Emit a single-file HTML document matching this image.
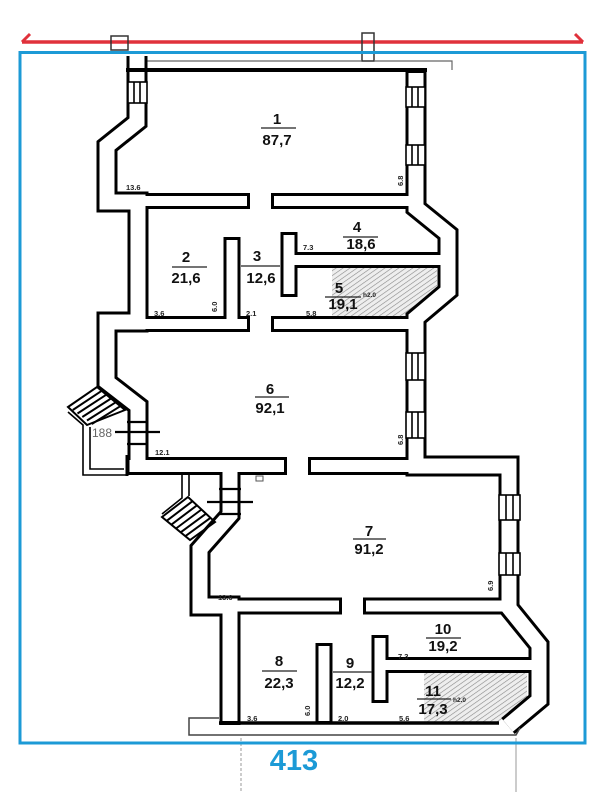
<!DOCTYPE html>
<html><head><meta charset="utf-8"><style>
html,body{margin:0;padding:0;background:#fff;}
svg{display:block;}
text{font-family:"Liberation Sans",sans-serif;}
.n{font-size:15px;font-weight:bold;text-anchor:middle;fill:#111;}
.d{font-size:7.5px;font-weight:bold;fill:#222;}
</style></head><body>
<svg width="604" height="792" viewBox="0 0 604 792" xmlns="http://www.w3.org/2000/svg">
<defs>
<pattern id="h" width="4" height="4" patternUnits="userSpaceOnUse" patternTransform="rotate(-35)">
<rect width="4" height="4" fill="#eee"/><line x1="0" y1="0" x2="4" y2="0" stroke="#888" stroke-width="1.2"/>
</pattern>
</defs>
<rect width="604" height="792" fill="#fff"/>

<line x1="22" y1="42" x2="583" y2="42" stroke="#e0313b" stroke-width="3.5"/>
<polyline points="30,34 22,42" stroke="#e0313b" stroke-width="3" fill="none"/>
<polyline points="575,34 583,42" stroke="#e0313b" stroke-width="3" fill="none"/>
<rect x="111" y="36" width="17" height="14" fill="none" stroke="#333" stroke-width="1.5"/>
<rect x="362" y="33" width="12" height="28" fill="none" stroke="#333" stroke-width="1.5"/>
<polyline points="137,61 362,61" stroke="#666" stroke-width="1.2" fill="none"/>
<polyline points="374,61 452,61 452,70" stroke="#666" stroke-width="1.2" fill="none"/>
<line x1="241" y1="738" x2="241" y2="792" stroke="#999" stroke-width="1" stroke-dasharray="3 2"/>
<line x1="516" y1="738" x2="516" y2="792" stroke="#999" stroke-width="1"/>

<polygon points="332,268 437,268 437,289 405,316 332,316" fill="url(#h)"/>
<polygon points="424,673 527,673 527,700 497,723 424,723" fill="url(#h)"/>

<g fill="none" stroke-linejoin="miter" stroke-linecap="butt">
<g stroke="#000">
 <path stroke-width="21" d="M137,56 V122 L107,146 V202 H138 V322 H107 V382 L138,406 V466"/>
 <path stroke-width="18" d="M287,466 H127"/>
 <path stroke-width="21" d="M416,70 V208 L448,234 V291 L416,318 V466 H509 V608 L539,645 V700 L508,726"/>
 <path stroke-width="18" d="M308,466 H420"/>
 <path stroke-width="21" d="M230,470 V515 L200,549 V606 H230 V725"/>
 <path stroke-width="16" d="M250,201 H140"/>
 <path stroke-width="16" d="M271,201 H410"/>
 <path stroke-width="16" d="M250,324 H140"/>
 <path stroke-width="16" d="M271,324 H410"/>
 <path stroke-width="17" d="M232,237 V320"/>
 <path stroke-width="17" d="M289,232 V262"/>
 <path stroke-width="17" d="M289,297 V258"/>
 <path stroke-width="16" d="M290,260 H440"/>
 <path stroke-width="17" d="M342,606 H235"/>
 <path stroke-width="17" d="M363,606 H505"/>
 <path stroke-width="17" d="M324,643 V722"/>
 <path stroke-width="17" d="M380,635 V667"/>
 <path stroke-width="17" d="M380,703 V663"/>
 <path stroke-width="16" d="M381,665 H532"/>
</g>
<g stroke="#fff">
 <path stroke-width="15" d="M137,52 V122 L107,146 V202 H138 V322 H107 V382 L138,406 V466"/>
 <path stroke-width="12" stroke-dasharray="0 3 10000" d="M287,466 H129.5"/>
 <path stroke-width="15" d="M416,73 V208 L448,234 V291 L416,318 V466 H509 V608 L539,645 V700 L508,726"/>
 <path stroke-width="12" stroke-dasharray="0 3 10000" d="M308,466 H420"/>
 <path stroke-width="15" d="M230,468 V515 L200,549 V606 H230 V721"/>
 <path stroke-width="10" stroke-dasharray="0 3 10000" d="M250,201 H135"/>
 <path stroke-width="10" stroke-dasharray="0 3 10000" d="M271,201 H420"/>
 <path stroke-width="10" stroke-dasharray="0 3 10000" d="M250,324 H135"/>
 <path stroke-width="10" stroke-dasharray="0 3 10000" d="M271,324 H420"/>
 <path stroke-width="11" stroke-dasharray="0 3 10000" d="M232,237 V326"/>
 <path stroke-width="11" stroke-dasharray="0 3 10000" d="M289,232 V262"/>
 <path stroke-width="11" stroke-dasharray="0 3 10000" d="M289,297 V258"/>
 <path stroke-width="10" d="M287,260 H441"/>
 <path stroke-width="11" stroke-dasharray="0 3 10000" d="M342,606 H225"/>
 <path stroke-width="11" stroke-dasharray="0 3 10000" d="M363,606 H515"/>
 <path stroke-width="11" stroke-dasharray="0 3 10000" d="M324,643 V721"/>
 <path stroke-width="11" stroke-dasharray="0 3 10000" d="M380,635 V667"/>
 <path stroke-width="11" stroke-dasharray="0 3 10000" d="M380,703 V663"/>
 <path stroke-width="10" d="M378,665 H533"/>
</g>
</g>

<line x1="126" y1="70" x2="427" y2="70" stroke="#000" stroke-width="4"/>
<line x1="219" y1="723" x2="499" y2="723" stroke="#000" stroke-width="3.5"/>
<polyline points="219,718 189,718 189,735 516,735 520,728" fill="none" stroke="#444" stroke-width="1.5"/>
<line x1="127" y1="455" x2="127" y2="476" stroke="#000" stroke-width="3"/>

<g stroke="#000" stroke-width="1.6" fill="#fff">
 <rect x="128" y="82" width="19" height="21"/><line x1="134" y1="82" x2="134" y2="103"/><line x1="140" y1="82" x2="140" y2="103"/>
 <rect x="406" y="87" width="19" height="20"/><line x1="412" y1="87" x2="412" y2="107"/><line x1="418" y1="87" x2="418" y2="107"/>
 <rect x="406" y="145" width="19" height="20"/><line x1="412" y1="145" x2="412" y2="165"/><line x1="418" y1="145" x2="418" y2="165"/>
 <rect x="406" y="353" width="19" height="27"/><line x1="412" y1="353" x2="412" y2="380"/><line x1="418" y1="353" x2="418" y2="380"/>
 <rect x="406" y="412" width="19" height="26"/><line x1="412" y1="412" x2="412" y2="438"/><line x1="418" y1="412" x2="418" y2="438"/>
 <rect x="499" y="495" width="21" height="25"/><line x1="506" y1="495" x2="506" y2="520"/><line x1="513" y1="495" x2="513" y2="520"/>
 <rect x="499" y="553" width="21" height="22"/><line x1="506" y1="553" x2="506" y2="575"/><line x1="513" y1="553" x2="513" y2="575"/>
</g>

<g stroke="#000" stroke-width="2.2">
 <line x1="127" y1="422" x2="148" y2="422"/><line x1="127" y1="444" x2="148" y2="444"/>
 <line x1="115" y1="432" x2="160" y2="432"/>
 <line x1="219" y1="489" x2="241" y2="489"/><line x1="219" y1="514" x2="241" y2="514"/>
 <line x1="207" y1="502" x2="253" y2="502"/>
</g>
<text x="92" y="437" font-size="12" fill="#666">188</text>

<g stroke="#000" stroke-width="2" fill="none">
 <polygon points="68,407 97,387 125,410 87,425"/>
 <line x1="72.8" y1="410" x2="101.7" y2="390.8"/>
 <line x1="77.5" y1="413.5" x2="106.3" y2="394.7"/>
 <line x1="82.3" y1="417" x2="111" y2="398.5"/>
 <line x1="87" y1="420.5" x2="115.7" y2="402.3"/>
 <line x1="91.8" y1="424" x2="120.3" y2="406.2"/>
 <polyline points="68,412 83,425 83,475 127,475" stroke-width="1.6"/>
 <polyline points="90,427 90,469 124,469" stroke-width="1.6"/>
 <polygon points="162,517 188,497 215,522 190,540"/>
 <line x1="166.7" y1="520.8" x2="192.5" y2="501.2"/>
 <line x1="171.3" y1="524.7" x2="197" y2="505.3"/>
 <line x1="176" y1="528.5" x2="201.5" y2="509.5"/>
 <line x1="180.7" y1="532.3" x2="206" y2="513.7"/>
 <line x1="185.3" y1="536.2" x2="210.5" y2="517.8"/>
 <polyline points="182,475 182,498 162,514" stroke-width="1.6"/>
 <polyline points="189,475 189,496" stroke-width="1.6"/>
</g>
<rect x="256" y="476" width="7" height="5" fill="none" stroke="#555" stroke-width="1"/>

<g class="n">
<text x="277" y="124">1</text><text x="277" y="145">87,7</text>
<text x="186" y="262">2</text><text x="186" y="283">21,6</text>
<text x="257" y="261">3</text><text x="261" y="283">12,6</text>
<text x="357" y="232">4</text><text x="361" y="249">18,6</text>
<text x="339" y="293">5</text><text x="343" y="309">19,1</text>
<text x="270" y="394">6</text><text x="270" y="413">92,1</text>
<text x="369" y="536">7</text><text x="369" y="554">91,2</text>
<text x="279" y="666">8</text><text x="279" y="688">22,3</text>
<text x="350" y="668">9</text><text x="350" y="688">12,2</text>
<text x="443" y="634">10</text><text x="443" y="651">19,2</text>
<text x="433" y="696">11</text><text x="433" y="714">17,3</text>
</g>
<g stroke="#222" stroke-width="1.2">
<line x1="261" y1="128" x2="296" y2="128"/>
<line x1="172" y1="267" x2="207" y2="267"/>
<line x1="241" y1="266" x2="280" y2="266"/>
<line x1="343" y1="237" x2="378" y2="237"/>
<line x1="325" y1="297" x2="361" y2="297"/>
<line x1="255" y1="397" x2="289" y2="397"/>
<line x1="353" y1="539" x2="386" y2="539"/>
<line x1="262" y1="671" x2="297" y2="671"/>
<line x1="333" y1="672" x2="372" y2="672"/>
<line x1="426" y1="638" x2="461" y2="638"/>
<line x1="417" y1="699" x2="451" y2="699"/>
</g>
<g class="d">
<text x="126" y="190">13.6</text>
<text x="303" y="250">7.3</text>
<text x="154" y="316">3.6</text>
<text x="246" y="316">2.1</text>
<text x="306" y="316">5.8</text>
<text x="363" y="297" font-size="6.5">h2.0</text>
<text x="155" y="455">12.1</text>
<text x="218" y="600">13.6</text>
<text x="398" y="659">7.3</text>
<text x="247" y="721">3.6</text>
<text x="338" y="721">2.0</text>
<text x="399" y="721">5.6</text>
<text x="453" y="702" font-size="6.5">h2.0</text>
<text transform="translate(403,186) rotate(-90)">6.8</text>
<text transform="translate(217,312) rotate(-90)">6.0</text>
<text transform="translate(403,445) rotate(-90)">6.8</text>
<text transform="translate(493,591) rotate(-90)">6.9</text>
<text transform="translate(310,716) rotate(-90)">6.0</text>
</g>

<rect x="20" y="52.5" width="565" height="690.5" fill="none" stroke="#1c9ad6" stroke-width="3"/>
<text x="294" y="770" font-size="29" font-weight="bold" fill="#1c9ad6" text-anchor="middle">413</text>
</svg>
</body></html>
